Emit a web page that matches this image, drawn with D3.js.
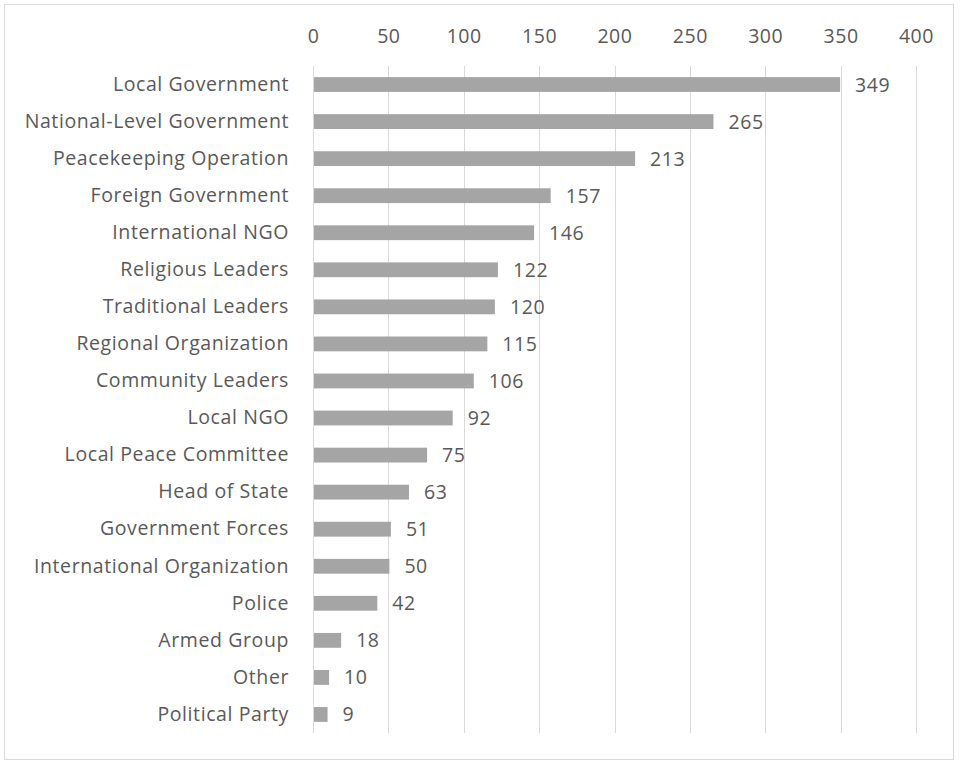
<!DOCTYPE html>
<html>
<head>
<meta charset="utf-8">
<script src="https://cdn.jsdelivr.net/npm/d3@7"></script>
<style>
  body { margin: 0; background: #fff; }
  text { font-family: "Open Sans", sans-serif; fill: #595959; }
</style>
</head>
<body>
<div id="chart"></div>
<script>
// data
var categories = ["Local Government", "National-Level Government", "Peacekeeping Operation",
    "Foreign Government", "International NGO", "Religious Leaders", "Traditional Leaders",
    "Regional Organization", "Community Leaders", "Local NGO", "Local Peace Committee",
    "Head of State", "Government Forces", "International Organization", "Police",
    "Armed Group", "Other", "Political Party"];
var counts = [349, 265, 213, 157, 146, 122, 120, 115, 106, 92, 75, 63, 51, 50, 42, 18, 10, 9];
var tickValues = [0, 50, 100, 150, 200, 250, 300, 350, 400];

var width = 964, height = 762,
    margin = {top: 66, right: 48, bottom: 29, left: 313};
var w = width - margin.left - margin.right,
    h = height - margin.top - margin.bottom;
var fontSize = "19.5px", spacing = "0.6px";

var svg = d3.select("#chart").append("svg")
    .attr("width", width)
    .attr("height", height);

// outer chart border
svg.append("rect")
    .attr("x", 4.5).attr("y", 4.5)
    .attr("width", 949).attr("height", 755)
    .style("fill", "#fff")
    .style("stroke", "#d9d9d9")
    .style("stroke-width", 1);

var g = svg.append("g")
    .attr("transform", "translate(" + margin.left + "," + margin.top + ")");

var X = d3.scaleLinear().domain([0, 400]).range([0, 603]);
var Y = d3.scaleBand().domain(categories).range([0, h]).paddingInner(0.6).paddingOuter(0.3);

// gridlines
g.selectAll(".grid").data(tickValues).enter().append("line")
    .attr("class", "grid")
    .attr("x1", function(d) { return Math.round(X(d)) + 0.5; })
    .attr("x2", function(d) { return Math.round(X(d)) + 0.5; })
    .attr("y1", 0).attr("y2", h)
    .style("stroke", "#d9d9d9")
    .style("stroke-width", 1);

// top axis labels
var xAxis = d3.axisTop(X).tickValues(tickValues).tickSize(0).tickPadding(0);
var ax = g.append("g").attr("transform", "translate(0,-23)").call(xAxis);
ax.select(".domain").remove();
ax.selectAll("text").style("font-size", fontSize).style("fill", "#595959")
    .style("letter-spacing", spacing)
    .style("font-family", "'Open Sans', sans-serif");

// category labels
var yAxis = d3.axisLeft(Y).tickSize(0).tickPadding(24);
var ay = g.append("g").call(yAxis);
ay.select(".domain").remove();
ay.selectAll("text").style("font-size", fontSize).style("fill", "#595959")
    .style("letter-spacing", spacing)
    .style("font-family", "'Open Sans', sans-serif");

// bars
g.selectAll(".bar").data(counts).enter().append("rect")
    .attr("class", "bar")
    .attr("x", X(0) + 1)
    .attr("y", function(d, i) { return Y(categories[i]); })
    .attr("width", function(d) { return X(d) - X(0); })
    .attr("height", Y.bandwidth())
    .style("fill", "#a5a5a5");

// value labels
g.selectAll(".val").data(counts).enter().append("text")
    .attr("class", "val")
    .attr("x", function(d) { return X(d) + 16; })
    .attr("y", function(d, i) { return Y(categories[i]) + Y.bandwidth() / 2; })
    .attr("dy", "0.36em")
    .style("font-size", fontSize)
    .style("letter-spacing", spacing)
    .text(function(d) { return d; });
</script>
</body>
</html>
